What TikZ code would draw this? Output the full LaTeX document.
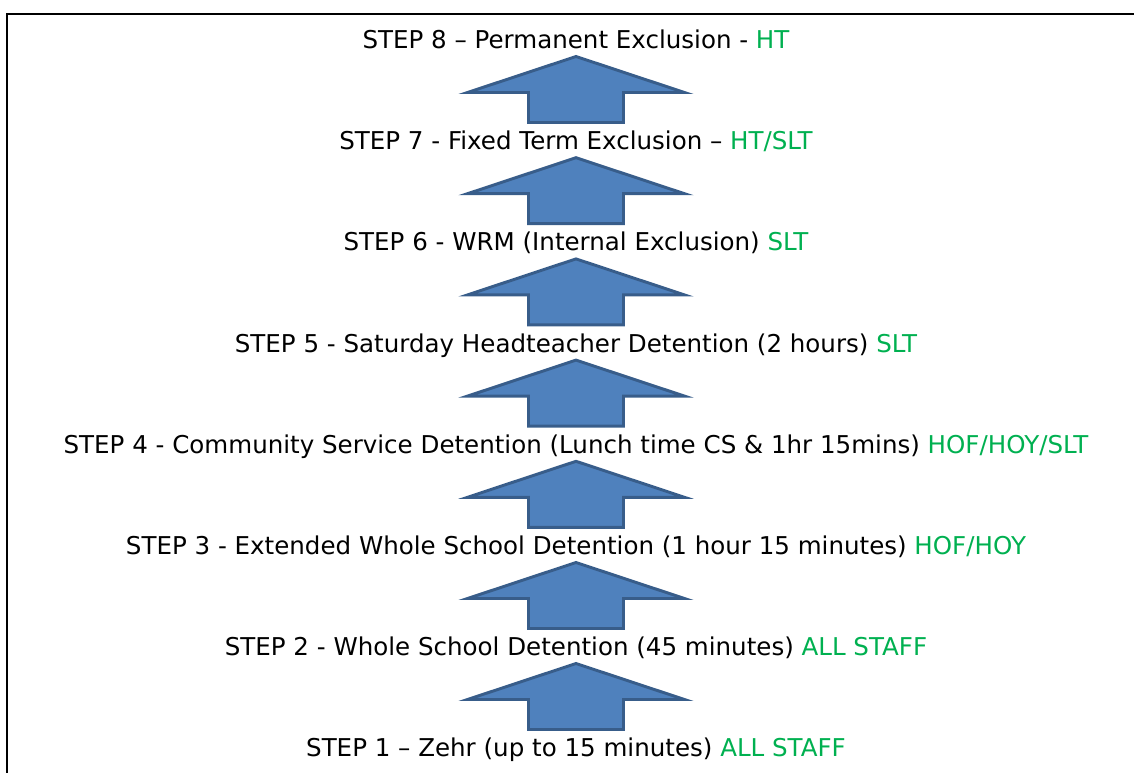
\documentclass[tikz,border=0pt]{standalone}
\usepackage{fontspec}
\setmainfont{DejaVu Sans}
\definecolor{arrfill}{HTML}{4F81BD}
\definecolor{arrline}{HTML}{385D8A}
\definecolor{staff}{HTML}{00B050}
\begin{document}
\begin{tikzpicture}[x=0.75pt,y=-0.75pt,
  steptext/.style={anchor=base,inner sep=0pt,font=\fontsize{18.4}{22}\selectfont},
  uparrow/.style={fill=arrfill,draw=arrline,line width=2.2pt,line join=miter}]
\useasboundingbox (0,0) rectangle (1134,773);
\draw[line width=2pt] (7,773) -- (7,14) -- (1134,14);
\foreach \k/\t in {0/55,1/156.2,2/257.4,3/358.6,4/459.8,5/561,6/662}{
  \path[uparrow] (576,\t+1.5) -- (684.5,\t+37.5) -- (623.5,\t+37.5) -- (623.5,\t+67.5)
     -- (528.5,\t+67.5) -- (528.5,\t+37.5) -- (467.5,\t+37.5) -- cycle;
}
\node[steptext] (s8) at (576,48.5) {STEP 8 – Permanent Exclusion - \textcolor{staff}{HT}};
\node[steptext] (s7) at (576,149.7) {STEP 7 - Fixed Term Exclusion – \textcolor{staff}{HT/SLT}};
\node[steptext] (s6) at (576,250.9) {STEP 6 - WRM (Internal Exclusion) \textcolor{staff}{SLT}};
\node[steptext] (s5) at (576,352.1) {STEP 5 - Saturday Headteacher Detention (2 hours) \textcolor{staff}{SLT}};
\node[steptext] (s4) at (576,453.3) {STEP 4 - Community Service Detention (Lunch time CS \& 1hr 15mins) \textcolor{staff}{HOF/HOY/SLT}};
\node[steptext] (s3) at (576,554.5) {STEP 3 - Extended Whole School Detention (1 hour 15 minutes) \textcolor{staff}{HOF/HOY}};
\node[steptext] (s2) at (576,655.7) {STEP 2 - Whole School Detention (45 minutes) \textcolor{staff}{ALL STAFF}};
\node[steptext] (s1) at (576,756.9) {STEP 1 – Zehr (up to 15 minutes) \textcolor{staff}{ALL STAFF}};
\end{tikzpicture}
\end{document}
